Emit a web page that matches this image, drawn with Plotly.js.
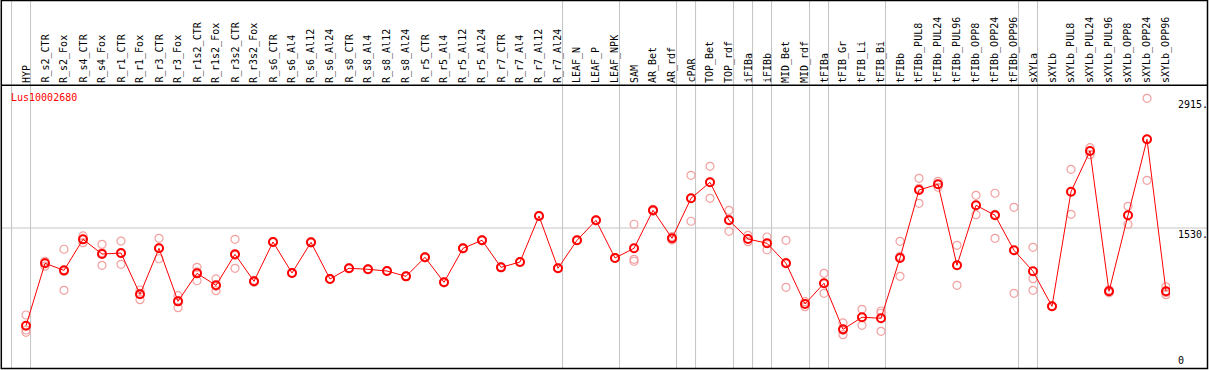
<!DOCTYPE html>
<html>
<head>
<meta charset="utf-8">
<script src="https://cdn.plot.ly/plotly-3.0.1.min.js"></script>
<style>html,body{margin:0;padding:0;background:#fff;}#chart{width:1209px;height:370px;}</style>
</head>
<body>
<div id="chart"></div>
<script>
const geneName = "Lus10002680";
const categories = ["HYP","R_s2_CTR","R_s2_Fox","R_s4_CTR","R_s4_Fox","R_r1_CTR","R_r1_Fox","R_r3_CTR","R_r3_Fox","R_r1s2_CTR","R_r1s2_Fox","R_r3s2_CTR","R_r3s2_Fox","R_s6_CTR","R_s6_Al4","R_s6_Al12","R_s6_Al24","R_s8_CTR","R_s8_Al4","R_s8_Al12","R_s8_Al24","R_r5_CTR","R_r5_Al4","R_r5_Al12","R_r5_Al24","R_r7_CTR","R_r7_Al4","R_r7_Al12","R_r7_Al24","LEAF_N","LEAF_P","LEAF_NPK","SAM","AR_Bet","AR_rdf","cPAR","TOP_Bet","TOP_rdf","iFIBa","iFIBb","MID_Bet","MID_rdf","tFIBa","tFIB_Gr","tFIB_Li","tFIB_Bi","tFIBb","tFIBb_PUL8","tFIBb_PUL24","tFIBb_PUL96","tFIBb_OPP8","tFIBb_OPP24","tFIBb_OPP96","sXYLa","sXYLb","sXYLb_PUL8","sXYLb_PUL24","sXYLb_PUL96","sXYLb_OPP8","sXYLb_OPP24","sXYLb_OPP96"];
const groupSizes = [1,28,3,3,1,2,1,1,2,1,3,7,1,7];
const meanValues = [487,1153,1078,1409,1252,1263,822,1313,747,1046,918,1249,961,1381,1050,1377,986,1100,1089,1071,1014,1217,950,1313,1399,1110,1167,1658,1100,1399,1612,1210,1313,1719,1420,1847,2018,1612,1413,1367,1153,719,940,448,577,566,1210,1936,1997,1132,1773,1666,1292,1068,694,1918,2352,854,1666,2477,854];
const rep1 = [601,1175,1303,1445,1356,1391,868,1420,807,1110,986,1409,970,1386,1055,1382,990,1104,1093,1075,1018,1222,955,1318,1404,1114,1171,1663,1104,1404,1617,1214,1570,1730,1437,2093,2189,1719,1452,1434,1399,743,1046,516,662,644,1388,2061,2029,1345,1879,1901,1751,1324,698,2157,2388,870,1762,2915,903];
const rep2 = [441,1160,1066,1409,1268,1256,833,1317,755,1061,907,1238,961,1381,1050,1377,986,1100,1089,1071,1014,1217,950,1313,1399,1110,1167,1658,1100,1399,1612,1210,1196,1719,1420,1847,2018,1622,1413,1367,1163,724,940,437,577,620,1228,1953,1997,1132,1773,1677,1292,989,694,1918,2352,854,1666,2477,841];
const rep3 = [416,1123,865,1373,1132,1142,765,1202,679,967,861,1100,952,1376,1045,1372,982,1096,1085,1067,1010,1212,945,1308,1394,1106,1163,1653,1096,1394,1607,1206,1175,1708,1403,1602,1847,1495,1384,1298,897,690,833,391,491,427,1014,1794,1965,918,1672,1420,833,865,690,1676,2313,838,1570,2039,818];
const yTickVals = [1530, 2915];
const yTickText = ["1530.", "2915."];
const yZeroText = "0";

const idx = categories.map((_, i) => i);
const repX = [], repY = [];
[rep1, rep2, rep3].forEach(r => r.forEach((v, i) => { repX.push(i); repY.push(v); }));

// pixel helpers for plot geometry
const W = 1209, H = 370;
const L = 2, R = 1170, T = 86, B = 368;
const pw = R - L, ph = B - T;
const px2paperX = p => (p - L) / pw;
const py2paperY = p => (B - p) / ph;

const traces = [
  {x: repX, y: repY, type: 'scatter', mode: 'markers', hoverinfo: 'skip',
   marker: {symbol: 'circle-open', size: 8, color: '#f2a0a0', line: {width: 1.2, color: '#f2a0a0'}}},
  {x: idx, y: meanValues, type: 'scatter', mode: 'lines+markers', hoverinfo: 'skip',
   line: {color: '#ff0000', width: 1},
   marker: {symbol: 'circle-open', size: 8, color: '#ff0000', line: {width: 2, color: '#ff0000'}}}
];

const shapes = [];
const topY = py2paperY(0.5);
const leftX = px2paperX(1.3);
const rightX = px2paperX(1207.5);
// group boundary lines
let acc = -1;
const bounds = [acc];
groupSizes.forEach(s => { acc += s; bounds.push(acc); });
bounds.forEach(b => {
  shapes.push({type: 'line', xref: 'x', yref: 'paper', x0: b + 0.24, x1: b + 0.24, y0: py2paperY(369), y1: topY,
    line: {color: '#c4c4c4', width: 1}, layer: 'below'});
});
// horizontal grid line at tick value
shapes.push({type: 'line', xref: 'paper', yref: 'y', x0: leftX, x1: rightX, y0: yTickVals[0], y1: yTickVals[0],
  line: {color: '#c4c4c4', width: 1}, layer: 'below'});
// frame
shapes.push({type: 'rect', xref: 'paper', yref: 'paper', x0: leftX, x1: rightX, y0: py2paperY(368.5), y1: topY,
  line: {color: '#000', width: 1.5}, fillcolor: 'rgba(0,0,0,0)'});
shapes.push({type: 'line', xref: 'paper', yref: 'paper', x0: leftX, x1: rightX, y0: py2paperY(85.3), y1: py2paperY(85.3),
  line: {color: '#000', width: 1.5}});

const font = {family: 'DejaVu Sans Mono, monospace', size: 10, color: '#000'};
const annotations = categories.map((c, i) => ({
  x: i, y: 1, xref: 'x', yref: 'paper', text: c, textangle: -90, showarrow: false,
  xanchor: 'center', yanchor: 'bottom', yshift: 1, font: font
}));
annotations.push({x: px2paperX(9), y: py2paperY(97), xref: 'paper', yref: 'paper', text: geneName,
  showarrow: false, xanchor: 'left', yanchor: 'middle', font: {family: font.family, size: 10, color: '#ff0000'}});
yTickVals.forEach((v, k) => {
  annotations.push({x: px2paperX(1176), y: v, xref: 'paper', yref: 'y', text: yTickText[k], showarrow: false,
    xanchor: 'left', yanchor: 'middle', yshift: -6, font: font});
});
annotations.push({x: px2paperX(1176), y: 0, xref: 'paper', yref: 'paper', text: yZeroText, showarrow: false,
  xanchor: 'left', yanchor: 'bottom', yshift: 0, font: font});

const layout = {
  width: W, height: H,
  margin: {l: L, r: W - R, t: T, b: H - B, pad: 0},
  paper_bgcolor: '#ffffff', plot_bgcolor: 'rgba(0,0,0,0)',
  showlegend: false,
  xaxis: {type: 'linear', range: [(L - 26) / 19, (R - 26) / 19], showgrid: false, zeroline: false,
    showticklabels: false, ticks: '', showline: false},
  yaxis: {range: [35.2, 3046.4], showgrid: false, zeroline: false, showticklabels: false, ticks: '', showline: false},
  shapes: shapes,
  annotations: annotations
};

Plotly.newPlot('chart', traces, layout, {staticPlot: true, displayModeBar: false});
</script>
</body>
</html>
